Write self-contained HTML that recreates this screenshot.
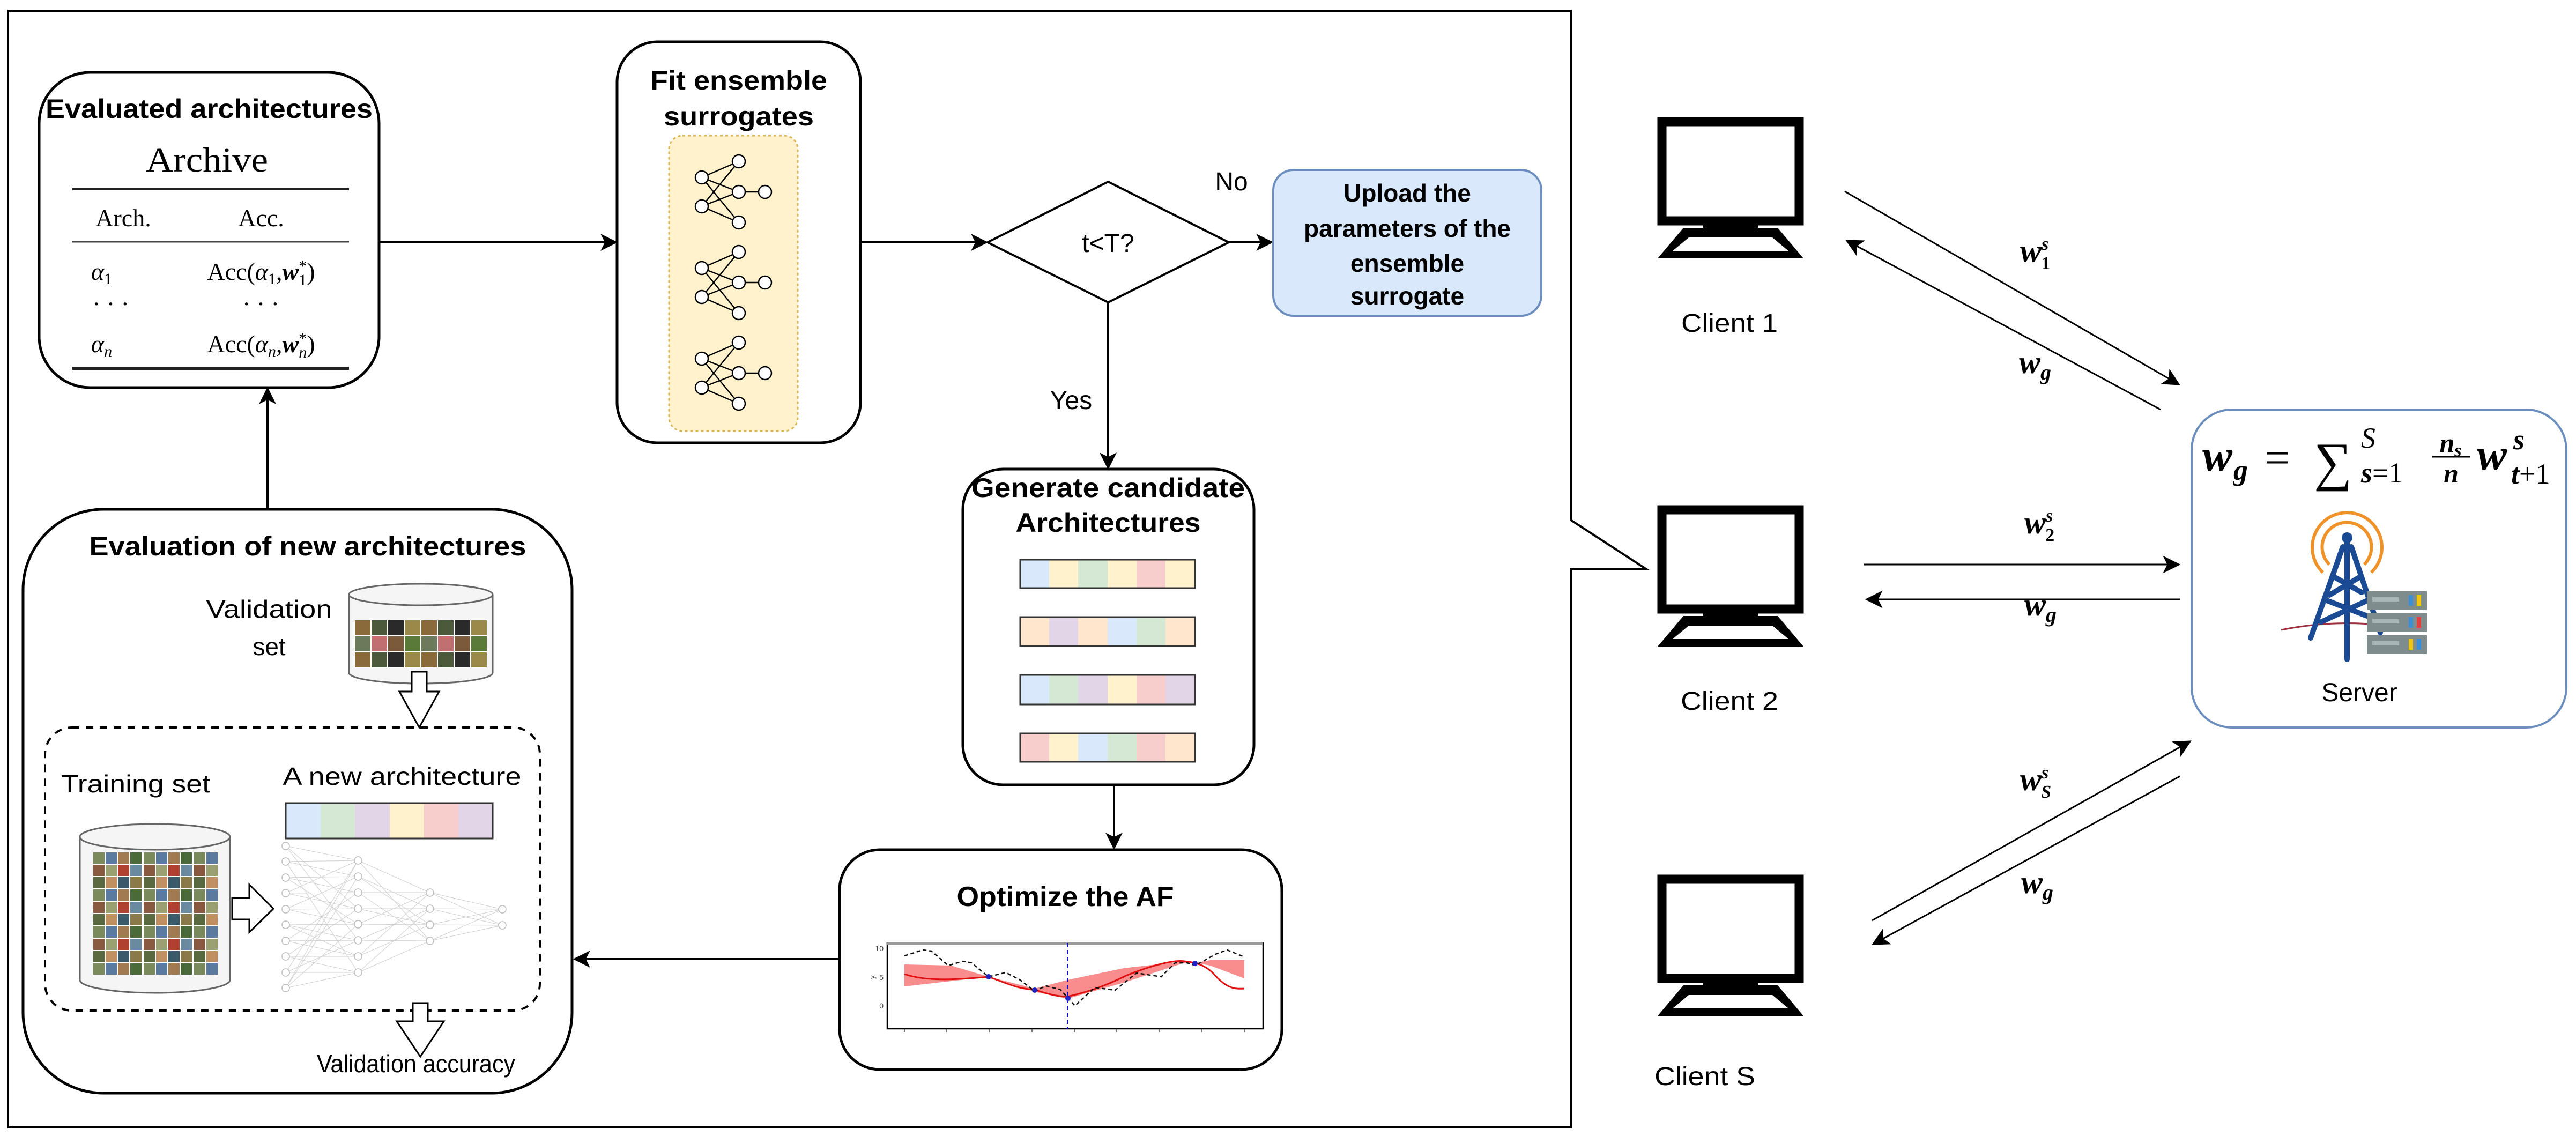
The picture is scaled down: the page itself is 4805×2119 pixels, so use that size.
<!DOCTYPE html>
<html><head><meta charset="utf-8"><style>html,body{margin:0;padding:0;background:#fff}svg{display:block}</style></head>
<body>
<svg width="4805" height="2119" viewBox="0 0 4805 2119" xmlns="http://www.w3.org/2000/svg" font-family="'Liberation Sans', sans-serif">
<defs>
<marker id="ah" viewBox="0 0 20 20" refX="18" refY="10" markerWidth="8" markerHeight="8" markerUnits="strokeWidth" orient="auto">
<path d="M0,0 L20,10 L0,20 L5,10 Z" fill="#000"/></marker>
<marker id="ah2" viewBox="0 0 20 20" refX="18" refY="10" markerWidth="11" markerHeight="11" markerUnits="strokeWidth" orient="auto">
<path d="M0,0 L20,10 L0,20 L5,10 Z" fill="#000"/></marker>
<pattern id="imgT" x="173" y="1589" width="94" height="69" patternUnits="userSpaceOnUse">
<rect width="94" height="69" fill="#fff"/>
<rect x="1" y="1" width="21" height="21" fill="#7a8a5a"/><rect x="24" y="1" width="21" height="21" fill="#5a7aa0"/><rect x="47" y="1" width="21" height="21" fill="#a07a50"/><rect x="70" y="1" width="21" height="21" fill="#4a6a3a"/>
<rect x="1" y="24" width="21" height="21" fill="#8a5a40"/><rect x="24" y="24" width="21" height="21" fill="#9aa070"/><rect x="47" y="24" width="21" height="21" fill="#b04030"/><rect x="70" y="24" width="21" height="21" fill="#6a8aa0"/>
<rect x="1" y="47" width="21" height="21" fill="#5a6a40"/><rect x="24" y="47" width="21" height="21" fill="#c09060"/><rect x="47" y="47" width="21" height="21" fill="#3a5a6a"/><rect x="70" y="47" width="21" height="21" fill="#8a7a4a"/>
</pattern>
<pattern id="imgV" x="661" y="1156" width="124" height="60" patternUnits="userSpaceOnUse">
<rect width="124" height="60" fill="#fff"/>
<rect x="1" y="1" width="29" height="28" fill="#8a6a3a"/><rect x="32" y="1" width="29" height="28" fill="#4a5a3a"/><rect x="63" y="1" width="29" height="28" fill="#2a2a2a"/><rect x="94" y="1" width="29" height="28" fill="#9a8a4a"/>
<rect x="1" y="31" width="29" height="28" fill="#6a7a5a"/><rect x="32" y="31" width="29" height="28" fill="#c07070"/><rect x="63" y="31" width="29" height="28" fill="#7a5a3a"/><rect x="94" y="31" width="29" height="28" fill="#5a7a3a"/>
</pattern>
</defs>

<path d="M15,20 H2930 V970 L3070,1061 H2930 V2103 H15 Z" fill="none" stroke="#000" stroke-width="4"/>

<!-- Evaluated architectures -->
<rect x="73" y="135" width="634" height="588" rx="95" fill="#fff" stroke="#000" stroke-width="5"/>
<text x="390" y="220" font-weight="bold" font-size="50" text-anchor="middle" textLength="610" lengthAdjust="spacingAndGlyphs">Evaluated architectures</text>
<text x="386" y="320" font-family="'Liberation Serif', serif" font-size="66" text-anchor="middle" textLength="228" lengthAdjust="spacingAndGlyphs">Archive</text>
<line x1="135" y1="353" x2="651" y2="353" stroke="#222" stroke-width="4"/>
<text x="230" y="422" font-family="'Liberation Serif', serif" font-size="46" text-anchor="middle">Arch.</text>
<text x="487" y="422" font-family="'Liberation Serif', serif" font-size="46" text-anchor="middle">Acc.</text>
<line x1="135" y1="451" x2="651" y2="451" stroke="#444" stroke-width="3"/>
<g font-family="'Liberation Serif', serif" font-size="46">
<text x="170" y="522" font-style="italic">α<tspan font-size="30" font-style="normal" dy="8">1</tspan></text>
<text x="487" y="522" text-anchor="middle">Acc(<tspan font-style="italic">α</tspan><tspan font-size="30" dy="8">1</tspan><tspan dy="-8">,</tspan><tspan font-style="italic" font-weight="bold">w</tspan><tspan font-size="30" dy="-16">*</tspan><tspan font-size="30" dx="-15" dy="26">1</tspan><tspan dy="-10">)</tspan></text>
<text x="172" y="582">· · ·</text><text x="452" y="582">· · ·</text>
<text x="170" y="657" font-style="italic">α<tspan font-size="30" dy="8">n</tspan></text>
<text x="487" y="657" text-anchor="middle">Acc(<tspan font-style="italic">α</tspan><tspan font-size="30" font-style="italic" dy="8">n</tspan><tspan dy="-8">,</tspan><tspan font-style="italic" font-weight="bold">w</tspan><tspan font-size="30" dy="-16">*</tspan><tspan font-size="30" font-style="italic" dx="-15" dy="26">n</tspan><tspan dy="-10">)</tspan></text>
</g>
<line x1="135" y1="687" x2="651" y2="687" stroke="#222" stroke-width="6"/>

<line x1="707" y1="452" x2="1149" y2="452" stroke="#000" stroke-width="4" marker-end="url(#ah)"/>

<!-- Fit ensemble surrogates -->
<rect x="1151" y="78" width="454" height="748" rx="75" fill="#fff" stroke="#000" stroke-width="5"/>
<text x="1378" y="167" font-weight="bold" font-size="50" text-anchor="middle" textLength="330" lengthAdjust="spacingAndGlyphs">Fit ensemble</text>
<text x="1378" y="234" font-weight="bold" font-size="50" text-anchor="middle" textLength="280" lengthAdjust="spacingAndGlyphs">surrogates</text>
<rect x="1248" y="253" width="240" height="551" rx="25" fill="#fff2cc" stroke="#d6b656" stroke-width="3" stroke-dasharray="5,5"/>
<g stroke="#000" stroke-width="2.5" fill="#fff">
<g id="nnI">
<path d="M1309,331 L1378,301 M1309,331 L1378,358 M1309,331 L1378,415 M1309,385 L1378,301 M1309,385 L1378,358 M1309,385 L1378,415 M1378,358 L1427,358" fill="none"/>
<circle cx="1309" cy="331" r="12"/><circle cx="1309" cy="385" r="12"/>
<circle cx="1378" cy="301" r="12"/><circle cx="1378" cy="358" r="12"/><circle cx="1378" cy="415" r="12"/>
<circle cx="1427" cy="358" r="12"/>
</g>
<use href="#nnI" transform="translate(0,169)"/>
<use href="#nnI" transform="translate(0,338)"/>
</g>

<line x1="1605" y1="452" x2="1840" y2="452" stroke="#000" stroke-width="4" marker-end="url(#ah)"/>
<polygon points="1842,452 2067,339 2292,452 2067,564" fill="#fff" stroke="#000" stroke-width="4"/>
<text x="2067" y="470" font-size="48" text-anchor="middle">t&lt;T?</text>
<line x1="2292" y1="452" x2="2372" y2="452" stroke="#000" stroke-width="4" marker-end="url(#ah)"/>
<text x="2297" y="355" font-size="48" text-anchor="middle">No</text>

<rect x="2375" y="317" width="500" height="272" rx="38" fill="#dae8fc" stroke="#6c8ebf" stroke-width="4"/>
<g font-weight="bold" font-size="46" text-anchor="middle">
<text x="2625" y="376">Upload the</text>
<text x="2625" y="442">parameters of the</text>
<text x="2625" y="507">ensemble</text>
<text x="2625" y="568">surrogate</text>
</g>

<line x1="2067" y1="564" x2="2067" y2="873" stroke="#000" stroke-width="4" marker-end="url(#ah)"/>
<text x="1998" y="763" font-size="48" text-anchor="middle">Yes</text>

<rect x="1796" y="875" width="543" height="589" rx="75" fill="#fff" stroke="#000" stroke-width="5"/>
<text x="2067" y="927" font-weight="bold" font-size="50" text-anchor="middle" textLength="510" lengthAdjust="spacingAndGlyphs">Generate candidate</text>
<text x="2067" y="992" font-weight="bold" font-size="50" text-anchor="middle" textLength="345" lengthAdjust="spacingAndGlyphs">Architectures</text>
<g stroke="none">
<rect x="1903" y="1044" width="54" height="53" fill="#dae8fc"/><rect x="1957" y="1044" width="54" height="53" fill="#fff2cc"/><rect x="2011" y="1044" width="55" height="53" fill="#d5e8d4"/><rect x="2066" y="1044" width="54" height="53" fill="#fff2cc"/><rect x="2120" y="1044" width="54" height="53" fill="#f8cecc"/><rect x="2174" y="1044" width="55" height="53" fill="#fff2cc"/>
<rect x="1903" y="1151" width="54" height="54" fill="#ffe6cc"/><rect x="1957" y="1151" width="54" height="54" fill="#e1d5e7"/><rect x="2011" y="1151" width="55" height="54" fill="#ffe6cc"/><rect x="2066" y="1151" width="54" height="54" fill="#dae8fc"/><rect x="2120" y="1151" width="54" height="54" fill="#d5e8d4"/><rect x="2174" y="1151" width="55" height="54" fill="#ffe6cc"/>
<rect x="1903" y="1259" width="54" height="55" fill="#dae8fc"/><rect x="1957" y="1259" width="54" height="55" fill="#d5e8d4"/><rect x="2011" y="1259" width="55" height="55" fill="#e1d5e7"/><rect x="2066" y="1259" width="54" height="55" fill="#fff2cc"/><rect x="2120" y="1259" width="54" height="55" fill="#f8cecc"/><rect x="2174" y="1259" width="55" height="55" fill="#e1d5e7"/>
<rect x="1903" y="1368" width="54" height="53" fill="#f8cecc"/><rect x="1957" y="1368" width="54" height="53" fill="#fff2cc"/><rect x="2011" y="1368" width="55" height="53" fill="#dae8fc"/><rect x="2066" y="1368" width="54" height="53" fill="#d5e8d4"/><rect x="2120" y="1368" width="54" height="53" fill="#f8cecc"/><rect x="2174" y="1368" width="55" height="53" fill="#ffe6cc"/>
</g>
<g fill="none" stroke="#333" stroke-width="3">
<rect x="1903" y="1044" width="326" height="53"/><rect x="1903" y="1151" width="326" height="54"/><rect x="1903" y="1259" width="326" height="55"/><rect x="1903" y="1368" width="326" height="53"/>
</g>

<line x1="2078" y1="1464" x2="2078" y2="1582" stroke="#000" stroke-width="4" marker-end="url(#ah)"/>

<rect x="1566" y="1585" width="825" height="410" rx="75" fill="#fff" stroke="#000" stroke-width="5"/>
<text x="1987" y="1690" font-weight="bold" font-size="52" text-anchor="middle" textLength="405" lengthAdjust="spacingAndGlyphs">Optimize the AF</text>
<rect x="1655" y="1759" width="701" height="160" fill="#fff" stroke="#000" stroke-width="2.5"/>
<line x1="1655" y1="1760" x2="2356" y2="1760" stroke="#999" stroke-width="5"/>
<g font-size="14" fill="#444" text-anchor="end"><text x="1648" y="1774">10</text><text x="1648" y="1828">5</text><text x="1648" y="1881">0</text></g>
<text x="1632" y="1826" font-size="13" fill="#444" transform="rotate(-90 1632 1826)">y</text>
<g stroke="#444" stroke-width="1.5"><line x1="1687" y1="1919" x2="1687" y2="1925"/><line x1="1766" y1="1919" x2="1766" y2="1925"/><line x1="1846" y1="1919" x2="1846" y2="1925"/><line x1="1925" y1="1919" x2="1925" y2="1925"/><line x1="2004" y1="1919" x2="2004" y2="1925"/><line x1="2083" y1="1919" x2="2083" y2="1925"/><line x1="2163" y1="1919" x2="2163" y2="1925"/><line x1="2242" y1="1919" x2="2242" y2="1925"/><line x1="2321" y1="1919" x2="2321" y2="1925"/></g>
<path d="M1687,1799 L1774,1801 L1844,1822 L1930,1844 L1991,1828 L2096,1806 L2209,1793 L2230,1796 L2257,1791 L2321,1791 L2321,1825 L2257,1801 L2230,1796 L2209,1796 L2096,1833 L1991,1863 L1930,1850 L1844,1822 L1687,1840 Z" fill="#f87878" opacity="0.85"/>
<path d="M1687,1817 C1720,1828 1760,1830 1844,1822 C1880,1835 1900,1845 1930,1846 C1960,1856 1975,1859 1991,1859 C2030,1850 2060,1840 2100,1820 C2150,1800 2190,1790 2209,1793 C2230,1795 2250,1800 2267,1820 C2290,1845 2305,1845 2321,1844" fill="none" stroke="#e01010" stroke-width="3"/>
<path d="M1687,1783 L1721,1772 L1737,1774 L1769,1801 L1796,1793 L1812,1796 L1844,1822 L1876,1814 L1903,1828 L1930,1849 L1951,1839 L1978,1846 L2005,1876 L2042,1842 L2080,1847 L2120,1815 L2166,1822 L2192,1796 L2214,1796 L2230,1801 L2267,1780 L2289,1772 L2321,1785" fill="none" stroke="#111" stroke-width="2.5" stroke-dasharray="7,5"/>
<line x1="1991" y1="1759" x2="1991" y2="1919" stroke="#1010d0" stroke-width="2" stroke-dasharray="8,5"/>
<g fill="#2020c0"><circle cx="1844" cy="1822" r="5"/><circle cx="1930" cy="1847" r="5"/><circle cx="1992" cy="1862" r="5"/><circle cx="2229" cy="1797" r="5"/></g>

<line x1="1566" y1="1789" x2="1072" y2="1789" stroke="#000" stroke-width="4" marker-end="url(#ah)"/>

<rect x="43" y="950" width="1024" height="1089" rx="150" fill="#fff" stroke="#000" stroke-width="5"/>
<line x1="499" y1="950" x2="499" y2="725" stroke="#000" stroke-width="4" marker-end="url(#ah)"/>
<text x="574" y="1036" font-weight="bold" font-size="50" text-anchor="middle" textLength="815" lengthAdjust="spacingAndGlyphs">Evaluation of new architectures</text>

<text x="502" y="1152" font-size="46" text-anchor="middle" textLength="235" lengthAdjust="spacingAndGlyphs">Validation</text>
<text x="502" y="1222" font-size="46" text-anchor="middle">set</text>
<path d="M651,1109 V1255 A134,20 0 0 0 919,1255 V1109" fill="#f5f5f5" stroke="#666" stroke-width="3"/>
<ellipse cx="785" cy="1109" rx="134" ry="20" fill="#f5f5f5" stroke="#666" stroke-width="3"/>
<rect x="661" y="1156" width="248" height="90" fill="url(#imgV)"/>
<polygon points="768,1253 796,1253 796,1290 819,1290 782,1357 745,1290 768,1290" fill="#fff" stroke="#000" stroke-width="3"/>

<rect x="84" y="1357" width="923" height="528" rx="50" fill="none" stroke="#000" stroke-width="4" stroke-dasharray="14,12"/>
<text x="253" y="1478" font-size="46" text-anchor="middle" textLength="278" lengthAdjust="spacingAndGlyphs">Training set</text>
<text x="750" y="1464" font-size="46" text-anchor="middle" textLength="445" lengthAdjust="spacingAndGlyphs">A new architecture</text>
<g><rect x="533" y="1498" width="65" height="66" fill="#dae8fc"/><rect x="598" y="1498" width="64" height="66" fill="#d5e8d4"/><rect x="662" y="1498" width="65" height="66" fill="#e1d5e7"/><rect x="727" y="1498" width="64" height="66" fill="#fff2cc"/><rect x="791" y="1498" width="64" height="66" fill="#f8cecc"/><rect x="855" y="1498" width="64" height="66" fill="#e1d5e7"/>
<rect x="533" y="1498" width="386" height="66" fill="none" stroke="#333" stroke-width="3"/></g>
<path d="M149,1561 V1828 A140,24 0 0 0 429,1828 V1561" fill="#f5f5f5" stroke="#666" stroke-width="3"/>
<ellipse cx="289" cy="1561" rx="140" ry="24" fill="#f5f5f5" stroke="#666" stroke-width="3"/>
<rect x="173" y="1589" width="233" height="229" fill="url(#imgT)"/>
<polygon points="433,1675 465,1675 465,1650 510,1695 465,1739 465,1715 433,1715" fill="#fff" stroke="#000" stroke-width="3"/>
<g stroke="#cfcfcf" stroke-width="1" fill="none">
<path d="M533,1578 L668,1605 L533,1607 L668,1635 L533,1637 L668,1665 L533,1666 L668,1695 L533,1696 L668,1724 L533,1725 L668,1754 L533,1755 L668,1784 L533,1784 L668,1814 L533,1814 L668,1605 L533,1843 L668,1814 M533,1578 L668,1754 M533,1607 L668,1814 M533,1637 L668,1724 M533,1666 L668,1605 M533,1696 L668,1635 M533,1725 L668,1784 M533,1755 L668,1665 M533,1784 L668,1695 M533,1814 L668,1754 M533,1843 L668,1635 M533,1578 L668,1695 M533,1843 L668,1724"/>
<path d="M668,1605 L802,1665 M668,1605 L802,1755 M668,1635 L802,1695 M668,1635 L802,1725 M668,1665 L802,1665 M668,1665 L802,1755 M668,1695 L802,1695 M668,1695 L802,1725 M668,1724 L802,1665 M668,1724 L802,1725 M668,1754 L802,1695 M668,1754 L802,1755 M668,1784 L802,1665 M668,1784 L802,1725 M668,1814 L802,1695 M668,1814 L802,1755"/>
<path d="M802,1665 L937,1696 M802,1665 L937,1726 M802,1695 L937,1696 M802,1695 L937,1726 M802,1725 L937,1696 M802,1725 L937,1726 M802,1755 L937,1696 M802,1755 L937,1726"/>
</g>
<g stroke="#bbb" stroke-width="1.5" fill="#fff">
<circle cx="533" cy="1578" r="7"/><circle cx="533" cy="1607" r="7"/><circle cx="533" cy="1637" r="7"/><circle cx="533" cy="1666" r="7"/><circle cx="533" cy="1696" r="7"/><circle cx="533" cy="1725" r="7"/><circle cx="533" cy="1755" r="7"/><circle cx="533" cy="1784" r="7"/><circle cx="533" cy="1814" r="7"/><circle cx="533" cy="1843" r="7"/>
<circle cx="668" cy="1605" r="7"/><circle cx="668" cy="1635" r="7"/><circle cx="668" cy="1665" r="7"/><circle cx="668" cy="1695" r="7"/><circle cx="668" cy="1724" r="7"/><circle cx="668" cy="1754" r="7"/><circle cx="668" cy="1784" r="7"/><circle cx="668" cy="1814" r="7"/>
<circle cx="802" cy="1665" r="7"/><circle cx="802" cy="1695" r="7"/><circle cx="802" cy="1725" r="7"/><circle cx="802" cy="1755" r="7"/>
<circle cx="937" cy="1696" r="7"/><circle cx="937" cy="1726" r="7"/>
</g>
<polygon points="770,1871 798,1871 798,1905 828,1905 784,1971 740,1905 770,1905" fill="#fff" stroke="#000" stroke-width="3"/>
<text x="776" y="2000" font-size="46" text-anchor="middle" textLength="370" lengthAdjust="spacingAndGlyphs">Validation accuracy</text>

<!-- Clients -->
<g id="mon">
<rect x="3100" y="227" width="256" height="185" fill="#fff" stroke="#000" stroke-width="17"/>
<rect x="3177" y="411" width="102" height="14" fill="#000"/>
<polygon points="3140,425 3316,425 3364,482 3092,482" fill="#000"/>
<polygon points="3150,443 3306,443 3336,468 3120,468" fill="#fff"/>
</g>
<use href="#mon" transform="translate(0,724)"/>
<use href="#mon" transform="translate(0,1413)"/>
<g font-size="48" text-anchor="middle">
<text x="3226" y="619" textLength="180" lengthAdjust="spacingAndGlyphs">Client 1</text>
<text x="3226" y="1324" textLength="182" lengthAdjust="spacingAndGlyphs">Client 2</text>
<text x="3180" y="2024" textLength="188" lengthAdjust="spacingAndGlyphs">Client S</text>
</g>

<g stroke="#000" stroke-width="3">
<line x1="3441" y1="357" x2="4064" y2="717" marker-end="url(#ah2)"/>
<line x1="4030" y1="764" x2="3445" y2="449" marker-end="url(#ah2)"/>
<line x1="3477" y1="1053" x2="4064" y2="1053" marker-end="url(#ah2)"/>
<line x1="4066" y1="1118" x2="3482" y2="1118" marker-end="url(#ah2)"/>
<line x1="3492" y1="1717" x2="4085" y2="1383" marker-end="url(#ah2)"/>
<line x1="4066" y1="1448" x2="3494" y2="1761" marker-end="url(#ah2)"/>
</g>
<g font-family="'Liberation Serif', serif" font-style="italic" font-weight="bold" font-size="60">
<text x="3768" y="488">w<tspan font-size="34" dy="-22">s</tspan><tspan font-size="34" font-style="normal" dx="-14" dy="36">1</tspan></text>
<text x="3766" y="696">w<tspan font-size="40" dy="12">g</tspan></text>
<text x="3776" y="995">w<tspan font-size="34" dy="-22">s</tspan><tspan font-size="34" font-style="normal" dx="-14" dy="36">2</tspan></text>
<text x="3776" y="1148">w<tspan font-size="40" dy="12">g</tspan></text>
<text x="3768" y="1474">w<tspan font-size="34" dy="-22">s</tspan><tspan font-size="34" dx="-14" dy="36">S</tspan></text>
<text x="3770" y="1666">w<tspan font-size="40" dy="12">g</tspan></text>
</g>

<!-- Server box -->
<rect x="4088" y="764" width="699" height="593" rx="75" fill="#fff" stroke="#6c8ebf" stroke-width="4"/>
<g font-family="'Liberation Serif', serif">
<text x="4108" y="878" font-size="84" font-style="italic" font-weight="bold">w</text>
<text x="4166" y="895" font-size="54" font-style="italic" font-weight="bold">g</text>
<text x="4224" y="882" font-size="84">=</text>
<text x="4316" y="895" font-size="100">∑</text>
<text x="4404" y="835" font-size="54" font-style="italic">S</text>
<text x="4404" y="900" font-size="54"><tspan font-style="italic" font-weight="bold">s</tspan>=1</text>
<text x="4571" y="843" font-size="50" font-style="italic" font-weight="bold" text-anchor="middle">n<tspan font-size="34" dy="8">s</tspan></text>
<line x1="4537" y1="852" x2="4608" y2="852" stroke="#000" stroke-width="3"/>
<text x="4572" y="900" font-size="50" font-style="italic" font-weight="bold" text-anchor="middle">n</text>
<text x="4620" y="876" font-size="84" font-style="italic" font-weight="bold">w</text>
<text x="4688" y="838" font-size="54" font-style="italic" font-weight="bold">s</text>
<text x="4684" y="902" font-size="54"><tspan font-style="italic" font-weight="bold">t</tspan>+1</text>
</g>
<g fill="none" stroke="#f0922a" stroke-width="6">
<path d="M4345,1053 A46,46 0 1 1 4410,1053"/>
<path d="M4333,1068 A65,65 0 1 1 4423,1068"/>
</g>
<path d="M4255,1175 Q4380,1150 4500,1175" fill="none" stroke="#a03040" stroke-width="3"/>
<g stroke="#1a4a94" stroke-width="10" fill="none" stroke-linecap="round">
<line x1="4378" y1="1005" x2="4378" y2="1230"/>
<line x1="4370" y1="1020" x2="4310" y2="1190"/>
<line x1="4386" y1="1020" x2="4440" y2="1180"/>
<path d="M4352,1075 L4405,1105 M4404,1075 L4345,1110 M4340,1120 L4418,1150 M4416,1120 L4330,1160"/>
</g>
<circle cx="4378" cy="1003" r="10" fill="#1a4a94"/>
<g>
<rect x="4415" y="1103" width="112" height="35" fill="#7f8c8d"/><rect x="4415" y="1144" width="112" height="35" fill="#7f8c8d"/><rect x="4415" y="1185" width="112" height="35" fill="#7f8c8d"/>
<rect x="4425" y="1114" width="50" height="8" fill="#a9b4b8"/><rect x="4425" y="1155" width="50" height="8" fill="#a9b4b8"/><rect x="4425" y="1196" width="50" height="8" fill="#a9b4b8"/>
<rect x="4493" y="1110" width="8" height="20" fill="#3a8fd8"/><rect x="4508" y="1110" width="8" height="20" fill="#f1c40f"/>
<rect x="4493" y="1151" width="8" height="20" fill="#3a8fd8"/><rect x="4508" y="1151" width="8" height="20" fill="#e04040"/>
<rect x="4493" y="1192" width="8" height="20" fill="#f1c40f"/><rect x="4508" y="1192" width="8" height="20" fill="#3a8fd8"/>
</g>
<text x="4401" y="1308" font-size="48" text-anchor="middle">Server</text>
</svg>
</body></html>
